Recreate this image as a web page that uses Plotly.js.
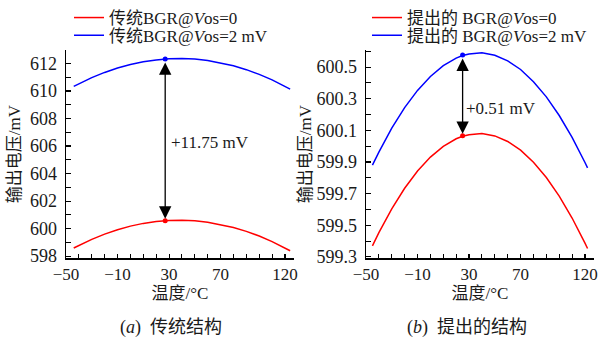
<!DOCTYPE html>
<html>
<head>
<meta charset="utf-8">
<script src="https://cdn.plot.ly/plotly-3.0.1.min.js"></script>
<style>html,body{margin:0;padding:0;background:#fff;}#chart{width:599px;height:340px;}</style>
</head>
<body>
<div id="chart"></div>
<script>
// ---- data (a) conventional structure ----
const tempA = [-44, -40, -30, -20, -10, 0, 10, 20, 27, 30, 40, 50, 60, 70, 80, 90, 100, 110, 120, 124];
const convVos0 = [598.59, 598.78, 599.22, 599.60, 599.92, 600.18, 600.38, 600.51, 600.57, 600.59, 600.61, 600.57, 600.47, 600.30, 600.08, 599.80, 599.46, 599.06, 598.59, 598.39];
const convVos2 = [610.34, 610.53, 610.97, 611.35, 611.67, 611.93, 612.13, 612.26, 612.32, 612.34, 612.36, 612.32, 612.22, 612.05, 611.83, 611.55, 611.21, 610.81, 610.34, 610.14];
const markA = [27];
const markConv0 = [600.58];
const markConv2 = [612.33];
const deltaA = "+11.75 mV";

// ---- data (b) proposed structure ----
const tempB = [-45, -40, -30, -20, -10, 0, 10, 20, 25, 30, 40, 50, 60, 70, 80, 90, 100, 110, 120, 122];
const propVos0 = [599.370, 599.453, 599.604, 599.734, 599.843, 599.931, 599.999, 600.047, 600.063, 600.073, 600.080, 600.065, 600.030, 599.975, 599.898, 599.802, 599.684, 599.546, 599.387, 599.353];
const propVos2 = [599.880, 599.963, 600.114, 600.244, 600.353, 600.441, 600.509, 600.557, 600.573, 600.583, 600.590, 600.575, 600.540, 600.485, 600.408, 600.312, 600.194, 600.056, 599.897, 599.863];
const markB = [25];
const markProp0 = [600.066];
const markProp2 = [600.576];
const deltaB = "+0.51 mV";

// ---- labels ----
const xTickVals = [-50, -10, 30, 70, 120];
const xTickText = ["\u221250", "\u221210", "30", "70", "120"];
const namesA = ["传统BGR@<i>V</i>os=0", "传统BGR@<i>V</i>os=2 mV"];
const namesB = ["提出的 BGR@<i>V</i>os=0", "提出的 BGR@<i>V</i>os=2 mV"];
const xTitle = "温度/°C";
const yTitle = "输出电压/mV";
const captions = ["(<i>a</i>)  传统结构", "(<i>b</i>)  提出的结构"];

const RED = "#ff0000", BLUE = "#0000ff";
const FONT = "Liberation Serif, 'Times New Roman', 'Noto Sans CJK SC', serif";
const TXT = '#1a1a1a';
const FS = 17;
const TFS = 18;
const XFS = 17;

const traces = [
  {x: tempA, y: convVos0, xaxis: 'x', yaxis: 'y', mode: 'lines', name: namesA[0], line: {color: RED, width: 1.5}, legend: 'legend'},
  {x: tempA, y: convVos2, xaxis: 'x', yaxis: 'y', mode: 'lines', name: namesA[1], line: {color: BLUE, width: 1.5}, legend: 'legend2'},
  {x: markA, y: markConv0, xaxis: 'x', yaxis: 'y', mode: 'markers', marker: {color: RED, size: 5}, showlegend: false},
  {x: markA, y: markConv2, xaxis: 'x', yaxis: 'y', mode: 'markers', marker: {color: BLUE, size: 5}, showlegend: false},
  {x: tempB, y: propVos0, xaxis: 'x2', yaxis: 'y2', mode: 'lines', name: namesB[0], line: {color: RED, width: 1.5}, legend: 'legend3'},
  {x: tempB, y: propVos2, xaxis: 'x2', yaxis: 'y2', mode: 'lines', name: namesB[1], line: {color: BLUE, width: 1.5}, legend: 'legend4'},
  {x: markB, y: markProp0, xaxis: 'x2', yaxis: 'y2', mode: 'markers', marker: {color: RED, size: 5}, showlegend: false},
  {x: markB, y: markProp2, xaxis: 'x2', yaxis: 'y2', mode: 'markers', marker: {color: BLUE, size: 5}, showlegend: false}
];

const W = 599, H = 340;
const yDom = [(H - 258) / H, (H - 48) / H];

function xAxis(domain) {
  return {
    domain: domain, range: [-50, 127], tickmode: 'array', tickvals: xTickVals, ticktext: xTickText,
    ticks: 'inside', ticklen: 4, tickwidth: 1.1, tickcolor: '#000',
    minor: {ticks: 'inside', ticklen: 4, tickwidth: 1.1, tickcolor: '#000', dtick: 10, tick0: -50},
    showline: true, linecolor: '#000', linewidth: 1.3, showgrid: false, zeroline: false,
    tickfont: {family: FONT, size: XFS, color: TXT}, ticklabelstandoff: 0, ticklabeloverflow: 'allow',
    title: {text: xTitle, font: {family: FONT, size: FS, color: TXT}, standoff: 0}
  };
}
function yAxis(range, dtick, tick0, mdtick, fmt, standoff) {
  return {
    domain: yDom, range: range, dtick: dtick, tick0: tick0, tickformat: fmt,
    ticks: 'inside', ticklen: 5, tickwidth: 1.1, tickcolor: '#000',
    minor: {ticks: 'inside', ticklen: 5, tickwidth: 1.1, tickcolor: '#000', dtick: mdtick, tick0: tick0},
    showline: true, linecolor: '#000', linewidth: 1.3, showgrid: false, zeroline: false,
    tickfont: {family: FONT, size: TFS, color: TXT}, ticklabelstandoff: 4, ticklabeloverflow: 'allow',
    title: {text: yTitle, font: {family: FONT, size: FS, color: TXT}, standoff: standoff}
  };
}
function legendAt(px, py) {
  return {x: px / W, y: 1 - py / H, xanchor: 'left', yanchor: 'middle', bgcolor: 'rgba(0,0,0,0)',
          font: {family: FONT, size: FS, color: TXT}, itemwidth: 30};
}

const layout = {
  width: W, height: H, margin: {l: 0, r: 0, t: 0, b: 0}, paper_bgcolor: '#fff', plot_bgcolor: '#fff',
  showlegend: true,
  font: {family: FONT, size: FS, color: TXT},
  xaxis: Object.assign(xAxis([66 / W, 294 / W]), {anchor: 'y'}),
  yaxis: Object.assign(yAxis([597.83, 613.0], 2, 598, 1, 'd', 5), {anchor: 'x'}),
  xaxis2: Object.assign(xAxis([366 / W, 594 / W]), {anchor: 'y2'}),
  yaxis2: Object.assign(yAxis([599.29, 600.61], 0.2, 599.3, 0.1, '.1f', 0), {anchor: 'x2'}),
  legend: legendAt(69, 16),
  legend2: legendAt(69, 34),
  legend3: legendAt(367, 16),
  legend4: legendAt(367, 34),
  annotations: [
    {xref: 'x', yref: 'y', x: markA[0], y: markConv0[0], axref: 'x', ayref: 'y', ax: markA[0], ay: markConv2[0],
     text: '', showarrow: true, arrowhead: 2, arrowside: 'end+start', arrowsize: 1.9, arrowwidth: 1.3, arrowcolor: '#000',
     standoff: 2, startstandoff: 2},
    {xref: 'x', yref: 'y', x: 30, y: 606.25, text: deltaA, showarrow: false, xanchor: 'left', yanchor: 'middle',
     font: {family: FONT, size: FS, color: TXT}},
    {xref: 'x2', yref: 'y2', x: markB[0], y: markProp0[0], axref: 'x2', ayref: 'y2', ax: markB[0], ay: markProp2[0],
     text: '', showarrow: true, arrowhead: 2, arrowside: 'end+start', arrowsize: 1.9, arrowwidth: 1.3, arrowcolor: '#000',
     standoff: 2, startstandoff: 2},
    {xref: 'x2', yref: 'y2', x: 26, y: 600.24, text: deltaB, showarrow: false, xanchor: 'left', yanchor: 'middle',
     font: {family: FONT, size: FS, color: TXT}},
    {xref: 'paper', yref: 'paper', x: 171 / W, y: 1 - 327 / H, text: captions[0], showarrow: false,
     xanchor: 'center', yanchor: 'middle', font: {family: FONT, size: 18, color: TXT}},
    {xref: 'paper', yref: 'paper', x: 467 / W, y: 1 - 327 / H, text: captions[1], showarrow: false,
     xanchor: 'center', yanchor: 'middle', font: {family: FONT, size: 18, color: TXT}}
  ]
};

Plotly.newPlot('chart', traces, layout, {staticPlot: true, displayModeBar: false});
</script>
</body>
</html>
